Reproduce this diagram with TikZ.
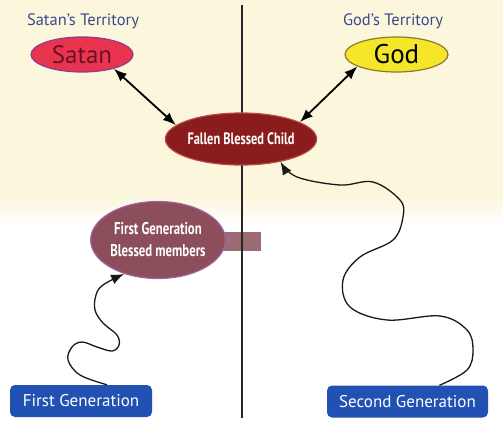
\documentclass[tikz,border=0pt]{standalone}
\usepackage{fontspec}
\setmainfont{PT Sans}
\newfontfamily\condfont[FakeStretch=0.75]{PT Sans}
\usetikzlibrary{shapes.geometric,arrows.meta}

\definecolor{cream}{HTML}{FBF6DC}
\definecolor{satanred}{HTML}{E8344F}
\definecolor{satanrim}{HTML}{8B3C8C}
\definecolor{satantxt}{HTML}{6E1024}
\definecolor{godyellow}{HTML}{F6E62A}
\definecolor{godrim}{HTML}{8C7A2C}
\definecolor{childred}{HTML}{8A1C1E}
\definecolor{childrim}{HTML}{B4484A}
\definecolor{fgbmfill}{HTML}{8C4E5A}
\definecolor{fgbmrim}{HTML}{A262A6}
\definecolor{barfill}{HTML}{9C6A72}
\definecolor{genblue}{HTML}{2152B3}
\definecolor{terrblue}{HTML}{3A4A8C}

\begin{document}
\begin{tikzpicture}
  [x=1pt,y=-1pt,
   oval/.style={ellipse,draw,line width=1.2pt,inner sep=0pt},
   genbox/.style={rectangle,rounded corners=5pt,fill=genblue,text=white,minimum height=32pt,font=\fontsize{17}{19}\selectfont},
   terr/.style={text=terrblue,font=\fontsize{16.5}{18}\selectfont},
   link/.style={line width=1.8pt,{Latex[length=13pt,width=10pt]}-{Latex[length=13pt,width=10pt]}},
   wave/.style={line width=1.3pt,black!90,-{Latex[length=13pt,width=10pt]}}]
  \useasboundingbox (0,0) rectangle (503,423);
  % background
  \fill[cream] (0,0) rectangle (503,195);
  \shade[top color=cream,bottom color=white] (0,195) rectangle (503,225);
  % bar and dividing line
  \fill[barfill] (215,232) rectangle (261,251);
  \draw[line width=1.2pt,black!85] (242,5) -- (242,418);

  \node[terr] (satanT) at (83,21) {Satan’s Territory};
  \node[terr] (godT) at (393,21) {God’s Territory};
  \node[oval,fill=satanred,draw=satanrim,minimum width=102pt,minimum height=35pt,
        text=satantxt,font=\fontsize{25}{25}\selectfont] (satan) at (82,54.5) {Satan};
  \node[oval,fill=godyellow,draw=godrim,minimum width=103pt,minimum height=35pt,
        font=\fontsize{27}{27}\selectfont] (god) at (396.5,54.5) {God};
  \node[oval,fill=childred,draw=childrim,minimum width=147pt,minimum height=52pt,
        text=white,font=\condfont\bfseries\fontsize{16.5}{18}\selectfont] (child) at (241,139) {Fallen Blessed Child};
  \node[oval,fill=fgbmfill,draw=fgbmrim,minimum width=130pt,minimum height=77pt,align=center,
        text=white,font=\condfont\bfseries\fontsize{17}{22}\selectfont] (fgbm) at (158,240) {First Generation\\Blessed members};
  \node[genbox,minimum width=142pt] (gen1) at (81,401) {First Generation};
  \node[genbox,minimum width=161pt] (gen2) at (407.5,401.5) {Second Generation};

  \draw[link] (satan.-24) -- (child.168);
  \draw[link] (god.197) -- (child.16);

  \draw[wave] plot[smooth,tension=0.6] coordinates {([xshift=26pt]gen1.north) (80,375) (68,360) (72,347) (82,342)
    (97,347) (112,351) (119,345) (117,335) (103,323) (95,310) (96,295) (103,285) (fgbm.225)};
  \draw[wave] plot[smooth,tension=0.6] coordinates {([xshift=32pt]gen2.north) (467,370) (473,350) (467,330) (440,316)
    (387,320) (350,307) (343,280) (360,257) (393,240) (403,217) (400,200) (373,182) (340,185) (297,177) (child.330)};
\end{tikzpicture}
\end{document}
